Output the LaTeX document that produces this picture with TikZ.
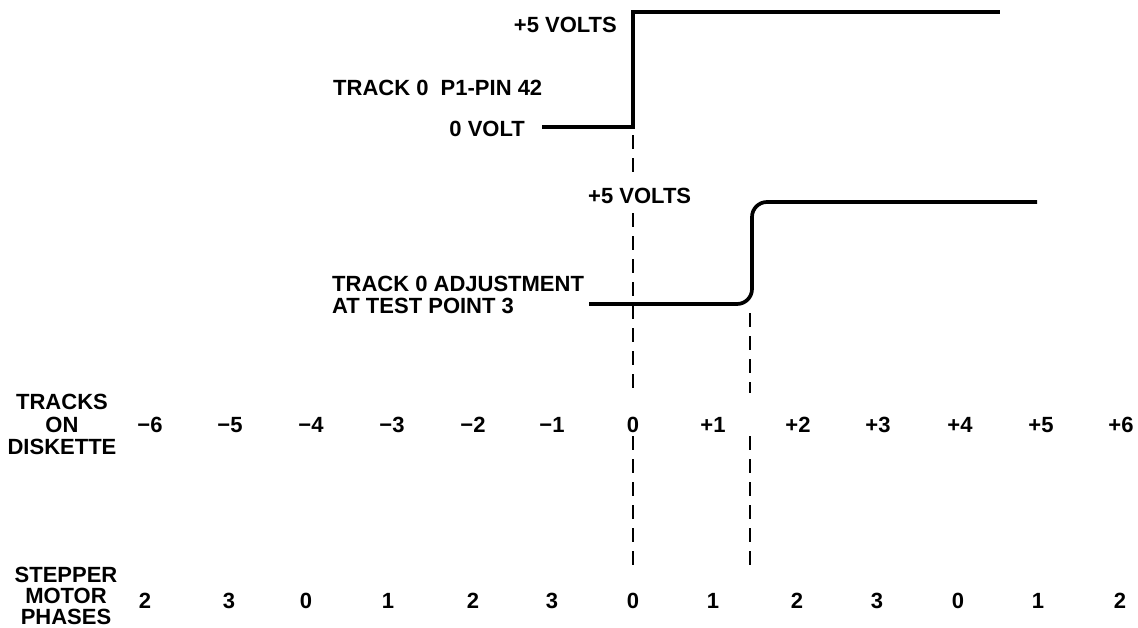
\documentclass[tikz,border=0pt]{standalone}
\usepackage{fontspec}
\setmainfont{Liberation Sans}
\begin{document}
\begin{tikzpicture}[x=1pt,y=-1pt,
  lbl/.style={font=\fontsize{22}{22.5}\selectfont\bfseries, inner sep=0pt},
  sig/.style={line width=3.7pt, line join=miter},
  guide/.style={line width=2pt, dash pattern=on 14pt off 9pt}]
\useasboundingbox (0,0) rectangle (1138,627);

% ---- signal 1: TRACK 0 P1-PIN 42
\coordinate (s1a) at (542,127);
\coordinate (s1b) at (633,127);
\coordinate (s1c) at (633,12);
\coordinate (s1d) at (1000,12);
\draw[sig] (s1a) -- (s1b) -- (s1c) -- (s1d);
\node[lbl, anchor=east] (hi1) at (617,25) {+5 VOLTS};
\node[lbl, anchor=west] (name1) at (333,88) {TRACK 0\ \ P1-PIN 42};
\node[lbl, anchor=east] (lo1) at (525,129) {0 VOLT};

% ---- signal 2: TRACK 0 ADJUSTMENT
\coordinate (s2a) at (589,304);
\coordinate (s2b) at (752,304);
\coordinate (s2c) at (752,202);
\coordinate (s2d) at (1037,202);
\draw[sig, rounded corners=15pt] (s2a) -- (s2b) -- (s2c) -- (s2d);
\node[lbl, anchor=west] (hi2) at (588,196) {+5 VOLTS};
\node[lbl, anchor=north west, align=left, font=\fontsize{22}{22}\selectfont\bfseries] (name2) at (332,275.5) {TRACK 0 ADJUSTMENT\\AT TEST POINT 3};

% ---- axis rows
\node[lbl, align=center] (tracks) at (62,424.5) {TRACKS\\ON\\DISKETTE};
\foreach \xx/\lab [count=\i] in {150/−6,230/−5,311/−4,392/−3,473/−2,552/−1,633/0,713/+1,798/+2,878/+3,960/+4,1041/+5,1121/+6}
  \node[lbl] (t\i) at (\xx,425) {\lab};

\node[lbl, align=center, font=\fontsize{22}{21}\selectfont\bfseries] (phases) at (66,596) {STEPPER\\MOTOR\\PHASES};
\foreach \xx/\lab [count=\i] in {145/2,229/3,306/0,388/1,473/2,552/3,633/0,713/1,797/2,877/3,958/0,1038/1,1120/2}
  \node[lbl] (p\i) at (\xx,601) {\lab};

% ---- dashed guide lines
\coordinate (g1a) at (633,135);
\coordinate (g1b) at (633,177);
\coordinate (g1c) at (633,213);
\coordinate (g1d) at (633,393);
\coordinate (g1e) at (633,436);
\coordinate (g1f) at (633,568);
\draw[guide] (g1a) -- (g1b);
\draw[guide] (g1c) -- (g1d);
\draw[guide] (g1e) -- (g1f);
\coordinate (g2a) at (750,313);
\coordinate (g2b) at (750,393);
\coordinate (g2c) at (750,436);
\coordinate (g2d) at (750,568);
\draw[guide] (g2a) -- (g2b);
\draw[guide] (g2c) -- (g2d);
\end{tikzpicture}
\end{document}
